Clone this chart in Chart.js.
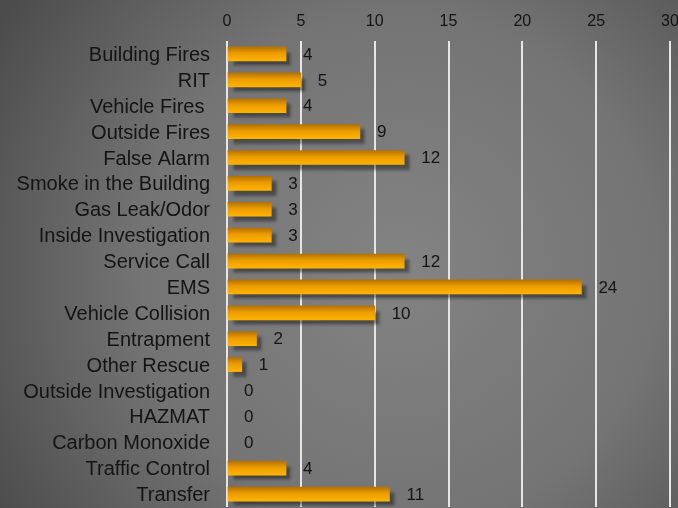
<!DOCTYPE html>
<html>
<head>
<meta charset="utf-8">
<script src="https://cdn.jsdelivr.net/npm/chart.js@4.4.1/dist/chart.umd.min.js"></script>
<style>
  html, body { margin: 0; padding: 0; background: #6a6a6a; }
  #wrap { width: 678px; height: 508px; }
</style>
</head>
<body>
<div id="wrap"><canvas id="callsChart" width="678" height="508"></canvas></div>
<script>
const categories = [
    'Building Fires', 'RIT', 'Vehicle Fires ', 'Outside Fires', 'False Alarm',
    'Smoke in the Building', 'Gas Leak/Odor', 'Inside Investigation', 'Service Call',
    'EMS', 'Vehicle Collision', 'Entrapment', 'Other Rescue', 'Outside Investigation',
    'HAZMAT', 'Carbon Monoxide', 'Traffic Control', 'Transfer'
];
const calls = [4, 5, 4, 9, 12, 3, 3, 3, 12, 24, 10, 2, 1, 0, 0, 0, 4, 11];
const axisMin = 0;
const axisMax = 30;
const axisStep = 5;

// grey radial backdrop behind everything
const backdrop = {
    id: 'backdrop',
    beforeDraw(chart) {
        const { ctx, width, height } = chart;
        const g = ctx.createRadialGradient(400, 270, 0, 400, 270, 470);
        g.addColorStop(0, '#838383');
        g.addColorStop(0.55, '#747474');
        g.addColorStop(1, '#4c4c4c');
        ctx.save();
        ctx.fillStyle = g;
        ctx.fillRect(0, 0, width, height);
        ctx.restore();
    },
};

// drop shadow on the bars + value labels next to them
const barExtras = {
    id: 'barExtras',
    beforeDatasetsDraw(chart) {
        const ctx = chart.ctx;
        ctx.save();
        ctx.shadowColor = 'rgba(0, 0, 0, 0.4)';
        ctx.shadowOffsetX = 5;
        ctx.shadowOffsetY = 5;
        ctx.shadowBlur = 3;
    },
    afterDatasetsDraw(chart) {
        const ctx = chart.ctx;
        ctx.restore();
        const meta = chart.getDatasetMeta(0);
        ctx.save();
        ctx.font = '17px "Liberation Sans", Arial, sans-serif';
        ctx.fillStyle = '#141414';
        ctx.textAlign = 'left';
        ctx.textBaseline = 'middle';
        meta.data.forEach((bar, i) => {
            ctx.fillText(String(calls[i]), bar.x + 17, bar.y + 1);
        });
        ctx.restore();
    },
};

function barFill(context) {
    const chart = context.chart;
    if (context.raw === 0) return 'rgba(0,0,0,0)';
    if (!chart.chartArea || context.dataIndex === undefined) return '#f5a800';
    const y = chart.scales.y.getPixelForValue(context.dataIndex);
    const g = chart.ctx.createLinearGradient(0, y - 7, 0, y + 7);
    g.addColorStop(0, '#b57200');
    g.addColorStop(0.45, '#eb9c00');
    g.addColorStop(1, '#ffb300');
    return g;
}

const ctx = document.getElementById('callsChart').getContext('2d');
new Chart(ctx, {
    type: 'bar',
    data: {
        labels: categories,
        datasets: [{
            data: calls,
            backgroundColor: barFill,
            borderWidth: 0,
            barThickness: 14,
        }],
    },
    options: {
        indexAxis: 'y',
        responsive: false,
        animation: false,
        layout: { padding: { left: 0, right: 8, top: 0, bottom: 1 } },
        plugins: {
            legend: { display: false },
            tooltip: { enabled: false },
        },
        scales: {
            x: {
                position: 'top',
                min: axisMin,
                max: axisMax,
                ticks: {
                    stepSize: axisStep,
                    color: '#141414',
                    padding: 10,
                    font: { family: '"Liberation Sans", Arial, sans-serif', size: 16 },
                },
                grid: { color: '#e6e6e6', lineWidth: 2, drawTicks: false },
                border: { display: false },
                afterFit(scale) {
                    scale.height = 41;
                    scale.paddingLeft = 0;
                    scale.paddingRight = 0;
                },
            },
            y: {
                ticks: {
                    color: '#141414',
                    padding: 9,
                    labelOffset: 1.5,
                    autoSkip: false,
                    font: { family: '"Liberation Sans", Arial, sans-serif', size: 20 },
                },
                grid: { display: false },
                border: { display: false },
                afterFit(scale) {
                    scale.width = 227;
                    scale.paddingTop = 0;
                    scale.paddingBottom = 0;
                },
            },
        },
    },
    plugins: [backdrop, barExtras],
});
</script>
</body>
</html>
